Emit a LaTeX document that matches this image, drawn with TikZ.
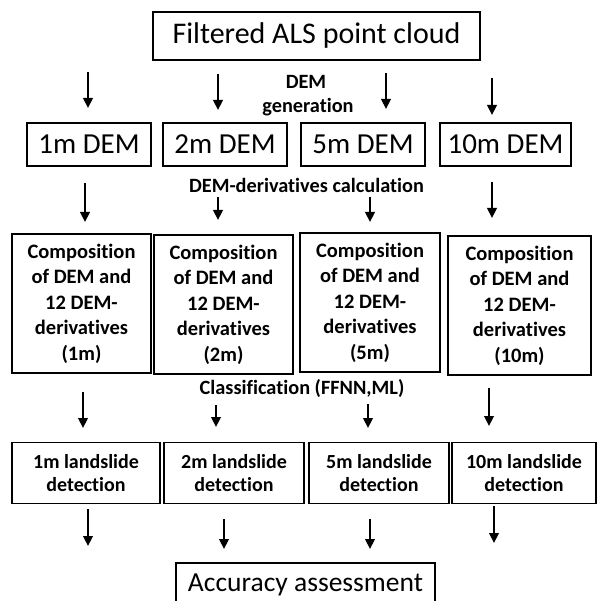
\documentclass[tikz,border=0pt]{standalone}
\usepackage{fontspec}
\setmainfont{Carlito}[Ligatures=NoCommon]
\usetikzlibrary{arrows.meta}
\begin{document}
\begin{tikzpicture}[x=1pt,y=-1pt,
  bigbox/.style={draw,line width=2.8pt,inner sep=0pt,font=\fontsize{30}{34}\selectfont},
  dembox/.style={draw,line width=1.8pt,inner sep=0pt,minimum height=43pt,font=\fontsize{29}{32}\selectfont},
  compbox/.style={draw,line width=1.8pt,inner sep=0pt,align=center,minimum height=139pt,font=\bfseries\fontsize{20.5}{25.5}\selectfont},
  slidebox/.style={draw,line width=1.8pt,inner sep=0pt,align=center,minimum height=61pt,font=\bfseries\fontsize{20}{23.5}\selectfont},
  lbl/.style={inner sep=0pt,font=\bfseries\fontsize{20.3}{24}\selectfont},
  arr/.style={line width=2.4pt,-{Triangle[width=9.5pt,length=10pt]}}]
\useasboundingbox (0,0) rectangle (597,601);
\clip (0,0) rectangle (597,601);
% top
\node[bigbox,minimum width=327pt,minimum height=48pt] (top) at (316.5,36) {Filtered ALS point cloud};
% labels
\node[lbl] (l1a) at (306,82) {DEM};
\node[lbl] (l1b) at (308,107) {generation};
\node[lbl] (l2) at (306.5,185) {DEM-derivatives calculation};
\node[lbl] (l3) at (302,388) {Classification (FFNN,ML)};
% DEM boxes
\node[dembox,minimum width=124pt] (d1) at (89,144.5) {1m DEM};
\node[dembox,minimum width=124pt] (d2) at (225,144.5) {2m DEM};
\node[dembox,minimum width=124pt] (d3) at (363,144.5) {5m DEM};
\node[dembox,minimum width=131pt] (d4) at (505.5,144.5) {10m DEM};
% composition boxes
\node[compbox,minimum width=139pt] (c1) at (81.5,303.5) {Composition\\of DEM and\\12 DEM-\\derivatives\\(1m)};
\node[compbox,minimum width=139pt] (c2) at (223.5,304.5) {Composition\\of DEM and\\12 DEM-\\derivatives\\(2m)};
\node[compbox,minimum width=140pt] (c3) at (370,302.5) {Composition\\of DEM and\\12 DEM-\\derivatives\\(5m)};
\node[compbox,minimum width=143pt] (c4) at (519.5,305.5) {Composition\\of DEM and\\12 DEM-\\derivatives\\(10m)};
% landslide boxes
\node[slidebox,minimum width=148pt] (s1) at (86,473) {1m landslide\\detection};
\node[slidebox,minimum width=140pt] (s2) at (234,473) {2m landslide\\detection};
\node[slidebox,minimum width=140pt] (s3) at (379,473) {5m landslide\\detection};
\node[slidebox,minimum width=144pt] (s4) at (524,473) {10m landslide\\detection};
% accuracy
\node[bigbox,minimum width=259pt,minimum height=64pt] (acc) at (305.5,595) {};
\node[inner sep=0pt,font=\fontsize{27.5}{30}\selectfont] (acct) at (305.5,585) {Accuracy assessment};
% arrow coordinates
\coordinate (a1s) at (88,72);  \coordinate (a1e) at (88,108);
\coordinate (a2s) at (218,74); \coordinate (a2e) at (218,110);
\coordinate (a3s) at (386,73); \coordinate (a3e) at (386,109);
\coordinate (a4s) at (492,78); \coordinate (a4e) at (492,115);
\coordinate (b1s) at (85,183);  \coordinate (b1e) at (85,222);
\coordinate (b2s) at (218,197); \coordinate (b2e) at (218,220);
\coordinate (b3s) at (370,197); \coordinate (b3e) at (370,222);
\coordinate (b4s) at (492,182); \coordinate (b4e) at (492,218);
\coordinate (e1s) at (83,392);  \coordinate (e1e) at (83,428);
\coordinate (e2s) at (216,405); \coordinate (e2e) at (216,427);
\coordinate (e3s) at (368,404); \coordinate (e3e) at (368,428);
\coordinate (e4s) at (489,388); \coordinate (e4e) at (489,426);
\coordinate (f1s) at (88,509);  \coordinate (f1e) at (88,546);
\coordinate (f2s) at (224,519); \coordinate (f2e) at (224,549);
\coordinate (f3s) at (370,519); \coordinate (f3e) at (370,549);
\coordinate (f4s) at (494,506); \coordinate (f4e) at (494,543);
\foreach \r in {a,b,e,f}{
  \foreach \i in {1,2,3,4}{
    \draw[arr] (\r\i s) -- (\r\i e);
  }
}
\end{tikzpicture}
\end{document}
